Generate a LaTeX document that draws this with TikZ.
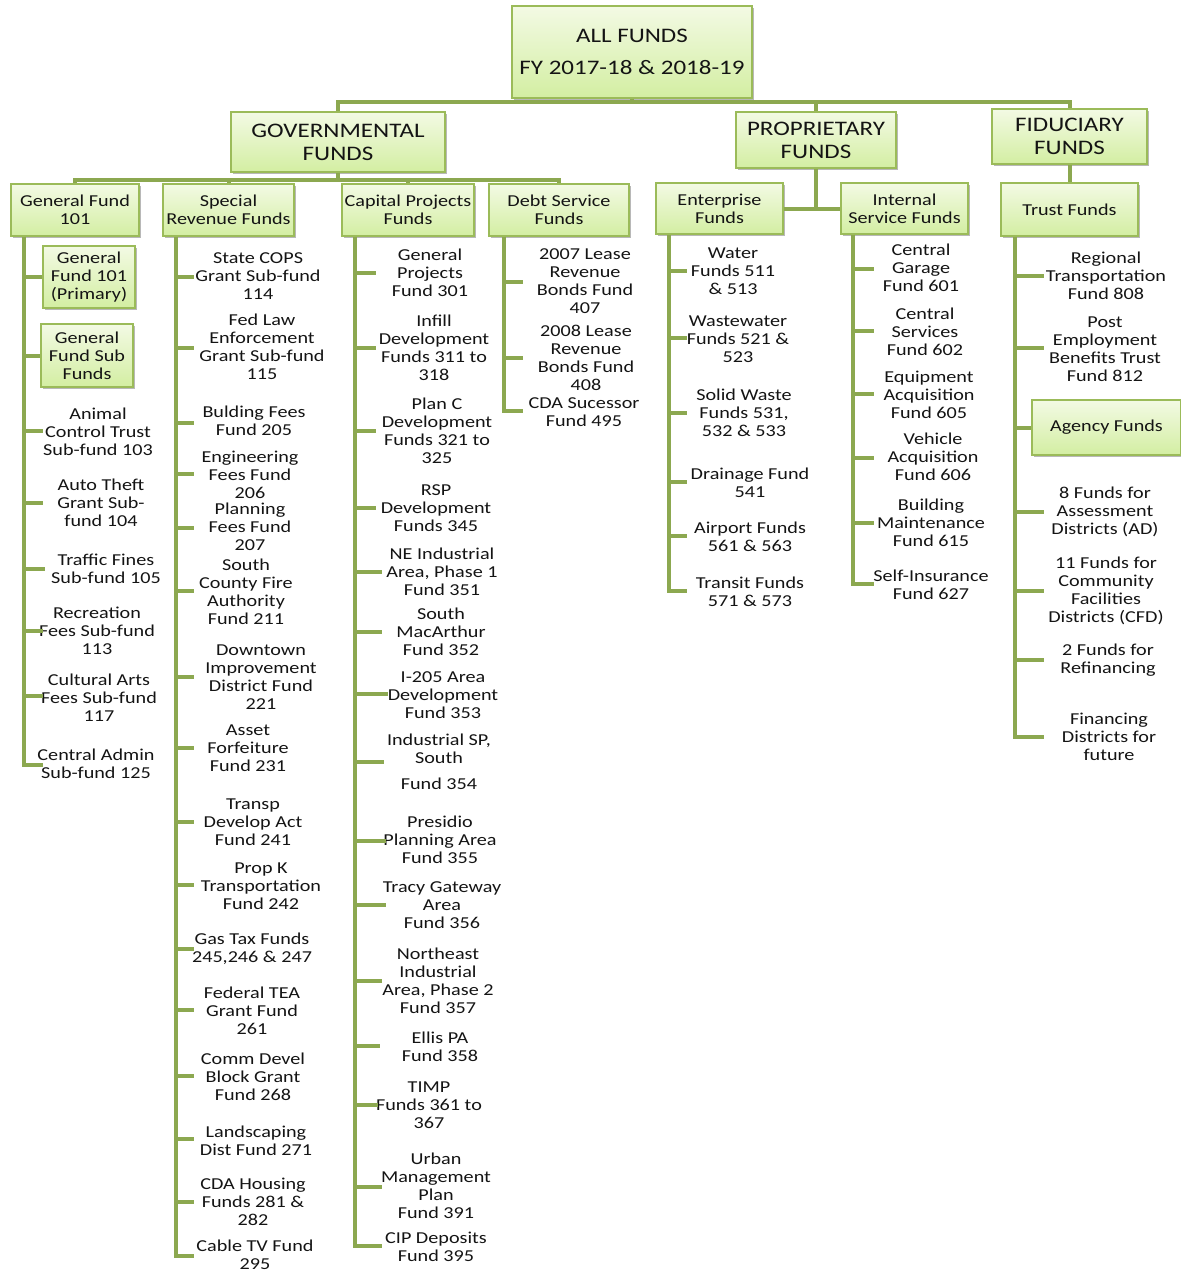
\documentclass[tikz,border=0pt]{standalone}
\usepackage{fontspec}
\setmainfont{Carlito}[FakeStretch=1.21]
\usetikzlibrary{shadows,calc}

\definecolor{boxedge}{RGB}{155,187,89}
\definecolor{boxtop}{RGB}{243,250,228}
\definecolor{boxbot}{RGB}{211,238,162}
\definecolor{linkgreen}{RGB}{140,168,80}
\definecolor{txt}{RGB}{20,20,20}

\tikzset{
  link/.style={draw=linkgreen, line width=3pt},
  wh/.style 2 args={minimum width=#1*0.75pt, minimum height=#2*0.75pt},
  box/.style={draw=boxedge, line width=1.4pt, top color=boxtop, bottom color=boxbot,
    drop shadow={shadow xshift=1.6pt, shadow yshift=-1.8pt, opacity=0.28, fill=black},
    align=center, inner sep=1pt, text=txt, font=\fontsize{12.5}{13.5}\selectfont},
  head/.style={box, font=\fontsize{15.5}{17.25}\selectfont},
  leaf/.style={align=center, inner sep=0pt, text=txt, font=\fontsize{12.5}{13.5}\selectfont},
}

% leaf label hanging off a trunk: name, trunk top, branch end x, branch y, label position, text
\newcommand\leaf[6]{%
  \coordinate (#1e) at (#3,#4);
  \node[leaf] (#1) at (#5) {#6};
  \draw[link] (#2 |- #1e) -- (#1e);
}

\begin{document}
\begin{tikzpicture}[x=0.75pt, y=-0.75pt]
\path[fill=white] (0,0) rectangle (1181,1274);
\useasboundingbox (0,0) rectangle (1181,1274);

% ---- boxes ----
\node[box, wh={240}{92}, font=\fontsize{15.5}{24}\selectfont] (all) at (632,52) {ALL FUNDS\\FY 2017-18 \& 2018-19};
\node[head, wh={214}{60}] (gov)  at (338,142)    {GOVERNMENTAL\\FUNDS};
\node[head, wh={160}{56}] (prop) at (816,140)    {PROPRIETARY\\FUNDS};
\node[head, wh={155}{55}] (fid)  at (1069.5,136.5) {FIDUCIARY\\FUNDS};

\node[box, wh={128}{52}] (gf)  at (75,210)    {General Fund\\101};
\node[box, wh={131}{52}] (srf) at (228.5,210) {Special\\Revenue Funds};
\node[box, wh={132}{52}] (cpf) at (408,210)   {Capital Projects\\Funds};
\node[box, wh={140}{52}] (dsf) at (559,210)   {Debt Service\\Funds};
\node[box, wh={127}{51}] (ent) at (719.5,208.5) {Enterprise\\Funds};
\node[box, wh={127}{51}] (isf) at (904.5,208.5) {Internal\\Service Funds};
\node[box, wh={137}{53}] (trust) at (1069.5,209.5) {Trust Funds};

\node[box, wh={92}{62}]  (gfp) at (89,277)     {General\\Fund 101\\(Primary)};
\node[box, wh={92}{63}]  (gfs) at (87,355.5)   {General\\Fund Sub\\Funds};
\node[box, wh={149}{55}] (agency) at (1106.5,427.5) {Agency Funds};

% ---- upper connectors ----
\coordinate (busA) at (632,102);
\draw[link] (all.south) -- (busA);
\draw[link] (gov.north) |- (busA) -| (fid.north);
\draw[link] (busA -| prop.north) -- (prop.north);

\coordinate (busG) at (338,180);
\draw[link] (gov.south) -- (busG);
\draw[link] (gf.north) |- (busG) -| (dsf.north);
\draw[link] (busG -| srf.north) -- (srf.north);
\draw[link] (busG -| cpf.north) -- (cpf.north);

\draw[link] (ent.east) -- (isf.west);
\draw[link] (prop.south) -- (prop.south |- ent.east);
\draw[link] (fid.south) -- (trust.north);

% ---- trunk tops ----
\coordinate (gfT) at ($(gf.south west)+(14,0)$);
\coordinate (srfT) at ($(srf.south west)+(14,0)$);
\coordinate (cpfT) at ($(cpf.south west)+(14,0)$);
\coordinate (dsfT) at ($(dsf.south west)+(16,0)$);
\coordinate (entT) at ($(ent.south west)+(14,0)$);
\coordinate (isfT) at ($(isf.south west)+(13,0)$);
\coordinate (trustT) at ($(trust.south west)+(15,0)$);

% ---- General Fund 101 ----
\draw[link] (gfT |- gfp.west) -- (gfp.west);
\draw[link] (gfT |- gfs.west) -- (gfs.west);
\leaf{g3}{gfT}{43}{431}{98,432}{Animal\\Control Trust\\Sub-fund 103}
\leaf{g4}{gfT}{43}{503}{101,503}{Auto Theft\\Grant Sub-\\fund 104}
\leaf{g5}{gfT}{45}{569}{106,569}{Traffic Fines\\Sub-fund 105}
\leaf{g6}{gfT}{43}{631}{97,631}{Recreation\\Fees Sub-fund\\113}
\leaf{g7}{gfT}{43}{696}{99,698}{Cultural Arts\\Fees Sub-fund\\117}
\leaf{g8}{gfT}{43}{765}{96,764}{Central Admin\\Sub-fund 125}
\draw[link] (gfT) |- (g8e);

% ---- Special Revenue Funds ----
\leaf{s1}{srfT}{194}{277}{258,276}{State COPS\\Grant Sub-fund\\114}
\leaf{s2}{srfT}{194}{348}{262,347}{Fed Law\\Enforcement\\Grant Sub-fund\\115}
\leaf{s3}{srfT}{194}{423}{254,421}{Bulding Fees\\Fund 205}
\leaf{s4}{srfT}{194}{474}{250,475}{Engineering\\Fees Fund\\206}
\leaf{s5}{srfT}{194}{528}{250,527}{Planning\\Fees Fund\\207}
\leaf{s6}{srfT}{194}{591}{246,592}{South\\County Fire\\Authority\\Fund 211}
\leaf{s7}{srfT}{194}{677}{261,677}{Downtown\\Improvement\\District Fund\\221}
\leaf{s8}{srfT}{194}{748}{248,748}{Asset\\Forfeiture\\Fund 231}
\leaf{s9}{srfT}{194}{822}{253,822}{Transp\\Develop Act\\Fund 241}
\leaf{s10}{srfT}{194}{885}{261,886}{Prop K\\Transportation\\Fund 242}
\leaf{s11}{srfT}{194}{949}{252,949}{Gas Tax Funds\\245,246 \& 247}
\leaf{s12}{srfT}{194}{1010}{252,1011}{Federal TEA\\Grant Fund\\261}
\leaf{s13}{srfT}{194}{1076}{253,1077}{Comm Devel\\Block Grant\\Fund 268}
\leaf{s14}{srfT}{194}{1139}{256,1141}{Landscaping\\Dist Fund 271}
\leaf{s15}{srfT}{194}{1202}{253,1202}{CDA Housing\\Funds 281 \&\\282}
\leaf{s16}{srfT}{194}{1256}{255,1255}{Cable TV Fund\\295}
\draw[link] (srfT) |- (s16e);

% ---- Capital Projects Funds ----
\leaf{c1}{cpfT}{376}{273}{430,273}{General\\Projects\\Fund 301}
\leaf{c2}{cpfT}{376}{348}{434,348}{Infill\\Development\\Funds 311 to\\318}
\leaf{c3}{cpfT}{376}{431}{437,431}{Plan C\\Development\\Funds 321 to\\325}
\leaf{c4}{cpfT}{376}{508}{436,508}{RSP\\Development\\Funds 345}
\leaf{c5}{cpfT}{382}{572}{442,572}{NE Industrial\\Area, Phase 1\\Fund 351}
\leaf{c6}{cpfT}{382}{632}{441,632}{South\\MacArthur\\Fund 352}
\leaf{c7}{cpfT}{388}{694}{443,695}{I-205 Area\\Development\\Fund 353}
\leaf{c8}{cpfT}{384}{762}{439,762}{Industrial SP,\\South\\[6pt]Fund 354}
\leaf{c9}{cpfT}{386}{841}{440,840}{Presidio\\Planning Area\\Fund 355}
\leaf{c10}{cpfT}{386}{905}{442,905}{Tracy Gateway\\Area\\Fund 356}
\leaf{c11}{cpfT}{382}{981}{438,981}{Northeast\\Industrial\\Area, Phase 2\\Fund 357}
\leaf{c12}{cpfT}{380}{1046}{440,1047}{Ellis PA\\Fund 358}
\leaf{c13}{cpfT}{378}{1105}{429,1105}{TIMP\\Funds 361 to\\367}
\leaf{c14}{cpfT}{382}{1187}{436,1185.5}{Urban\\Management\\Plan\\Fund 391}
\leaf{c15}{cpfT}{382}{1246}{436,1247}{CIP Deposits\\Fund 395}
\draw[link] (cpfT) |- (c15e);

% ---- Debt Service Funds ----
\leaf{d1}{dsfT}{523}{282}{585,281.5}{2007 Lease\\Revenue\\Bonds Fund\\407}
\leaf{d2}{dsfT}{523}{358}{586,357.5}{2008 Lease\\Revenue\\Bonds Fund\\408}
\leaf{d3}{dsfT}{523}{411}{584,412}{CDA Sucessor\\Fund 495}
\draw[link] (dsfT) |- (d3e);

% ---- Enterprise Funds ----
\leaf{e1}{entT}{687}{271}{733,271}{Water\\Funds 511\\\& 513}
\leaf{e2}{entT}{687}{338}{738,339}{Wastewater\\Funds 521 \&\\523}
\leaf{e3}{entT}{687}{413}{744,413}{Solid Waste\\Funds 531,\\532 \& 533}
\leaf{e4}{entT}{687}{482}{750,483}{Drainage Fund\\541}
\leaf{e5}{entT}{687}{536}{750,537}{Airport Funds\\561 \& 563}
\leaf{e6}{entT}{687}{591}{750,592}{Transit Funds\\571 \& 573}
\draw[link] (entT) |- (e6e);

% ---- Internal Service Funds ----
\leaf{i1}{isfT}{874}{269}{921,268}{Central\\Garage\\Fund 601}
\leaf{i2}{isfT}{874}{331}{925,332}{Central\\Services\\Fund 602}
\leaf{i3}{isfT}{874}{394}{929,395}{Equipment\\Acquisition\\Fund 605}
\leaf{i4}{isfT}{874}{458}{933,457}{Vehicle\\Acquisition\\Fund 606}
\leaf{i5}{isfT}{874}{523}{931,523}{Building\\Maintenance\\Fund 615}
\leaf{i6}{isfT}{874}{584}{931,585}{Self-Insurance\\Fund 627}
\draw[link] (isfT) |- (i6e);

% ---- Trust Funds ----
\leaf{t1}{trustT}{1044}{276}{1106,276}{Regional\\Transportation\\Fund 808}
\leaf{t2}{trustT}{1044}{348}{1105,349}{Post\\Employment\\Benefits Trust\\Fund 812}
\draw[link] (trustT |- agency.west) -- (agency.west);
\leaf{t3}{trustT}{1044}{512}{1105,512}{8 Funds for\\Assessment\\Districts (AD)}
\leaf{t4}{trustT}{1044}{591}{1106,590.5}{11 Funds for\\Community\\Facilities\\Districts (CFD)}
\leaf{t5}{trustT}{1044}{660}{1108,660}{2 Funds for\\Refinancing}
\leaf{t6}{trustT}{1044}{737}{1109,736.5}{Financing\\Districts for\\future}
\draw[link] (trustT) |- (t6e);

\end{tikzpicture}
\end{document}
